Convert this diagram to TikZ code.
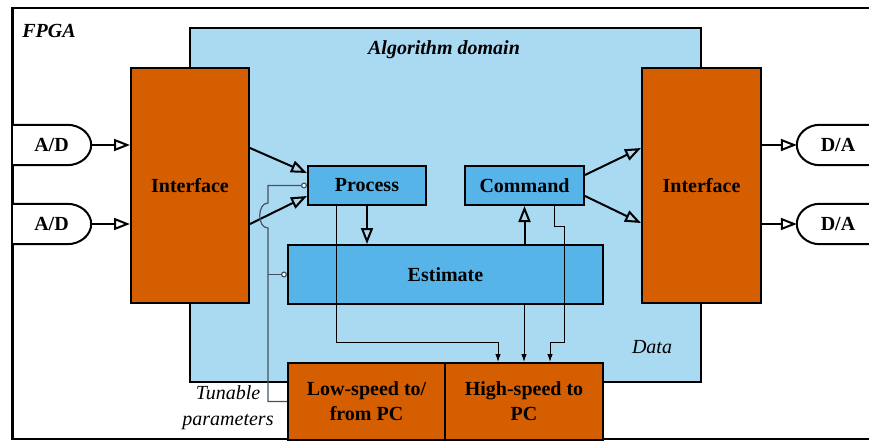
\documentclass[tikz,border=0pt]{standalone}
\usepackage{fontspec}
\setmainfont{Liberation Serif}
\usetikzlibrary{arrows.meta,calc}
\definecolor{vermil}{HTML}{D55E00}
\definecolor{skyblue}{HTML}{56B4E9}
\definecolor{paleblue}{HTML}{AAD9F2}
\definecolor{tunegray}{HTML}{46535F}
\tikzset{
  blockbase/.style={draw, line width=2pt, inner sep=0pt, anchor=north west,
    align=center, font=\bfseries\fontsize{20}{25}\selectfont},
  ifbox/.style={blockbase, fill=vermil},
  procbox/.style={blockbase, fill=skyblue},
  convlabel/.style={inner sep=0pt, font=\bfseries\fontsize{20}{24}\selectfont},
  itlabel/.style={inner sep=0pt, align=center, font=\itshape\fontsize{20}{26}\selectfont},
  bitlabel/.style={inner sep=0pt, font=\bfseries\itshape\fontsize{20}{24}\selectfont},
  convshape/.style={draw, line width=2pt, fill=white},
  bigarrow/.style={line width=2pt, -{Triangle[open, length=16pt, width=12pt]}},
  datalink/.style={line width=1pt, -{Latex[length=8pt, width=5.5pt]}},
  tune/.style={draw=tunegray, line width=1.2pt, -{Circle[length=6pt, fill=white]}},
}
\begin{document}
\begin{tikzpicture}[x=1pt, y=-1pt]
  \path[use as bounding box, clip] (0,0) rectangle (869,441);

  % FPGA frame and algorithm domain
  \node[draw, line width=2pt, minimum width=900pt, minimum height=431pt,
        inner sep=0pt, anchor=north west] (fpga) at (12,7) {};
  \node[bitlabel] (fpgalbl) at (49,31) {FPGA};
  \node[draw, line width=1.6pt, fill=paleblue, minimum width=511pt,
        minimum height=354pt, inner sep=0pt, anchor=north west] (algo) at (189,27) {};
  \node[bitlabel] (algolbl) at (444,50) {Algorithm domain};
  \node[itlabel] (datalbl) at (652,347) {Data};

  % interfaces
  \node[ifbox, minimum width=118pt, minimum height=235pt] (ifl) at (130,67) {Interface};
  \node[ifbox, minimum width=119pt, minimum height=235pt] (ifr) at (641,67) {Interface};

  % processing blocks
  \node[procbox, minimum width=118pt, minimum height=39pt] (proc) at (307,165) {Process};
  \node[procbox, minimum width=119pt, minimum height=39pt] (cmd) at (464,165) {Command};
  \node[procbox, minimum width=315pt, minimum height=59pt] (est) at (287,244) {Estimate};

  % PC links
  \node[ifbox, minimum width=157pt, minimum height=77pt] (low) at (287,362) {Low-speed to/\\from PC};
  \node[ifbox, minimum width=158pt, minimum height=77pt] (high) at (444,362) {High-speed to\\PC};
  \node[itlabel] (tunelbl) at (228,408) {Tunable\\parameters};

  % converters
  \foreach \nm/\yy/\txt in {ad1/145/{A/D}, ad2/224/{A/D}} {
    \node[convlabel, minimum width=79pt, minimum height=40pt] (\nm) at (51.5,\yy) {};
    \draw[convshape] (\nm.north west) -- ($(\nm.north east)+(-24,0)$)
      .. controls +(13.2,0) and +(0,-11) .. (\nm.east)
      .. controls +(0,11) and +(13.2,0) .. ($(\nm.south east)+(-24,0)$)
      -- (\nm.south west);
    \node[convlabel] at (\nm) {\txt};
  }
  \foreach \nm/\yy/\txt in {da1/145/{D/A}, da2/224/{D/A}} {
    \node[convlabel, minimum width=82pt, minimum height=40pt] (\nm) at (838,\yy) {};
    \draw[convshape] ($(\nm.north east)+(30,0)$) -- ($(\nm.north west)+(23,0)$)
      .. controls +(-12.7,0) and +(0,-11) .. (\nm.west)
      .. controls +(0,11) and +(-12.7,0) .. ($(\nm.south west)+(23,0)$)
      -- ($(\nm.south east)+(30,0)$);
    \node[convlabel] at (\nm) {\txt};
  }
  \draw[line width=2pt] (fpga.north west) -- (fpga.south west);

  % converter links
  \draw[bigarrow] (ad1.east) -- (ad1.east -| ifl.west);
  \draw[bigarrow] (ad2.east) -- (ad2.east -| ifl.west);
  \draw[bigarrow] (da1.west -| ifr.east) -- (da1.west);
  \draw[bigarrow] (da2.west -| ifr.east) -- (da2.west);

  % interface links
  \draw[bigarrow] ($(ifl.east)+(0,-37.5)$) -- ($(proc.west)+(0,-12.5)$);
  \draw[bigarrow] ($(ifl.east)+(0,38.5)$) -- ($(proc.west)+(0,10.5)$);
  \draw[bigarrow] ($(cmd.east)+(0,-10.5)$) -- ($(ifr.west)+(0,-37.5)$);
  \draw[bigarrow] ($(cmd.east)+(0,10.5)$) -- ($(ifr.west)+(0,37.5)$);

  % estimation loop
  \draw[bigarrow] (proc.south) -- (proc.south |- est.north);
  \draw[bigarrow] (cmd.south |- est.north) -- (cmd.south);

  % data streams to the PC
  \draw[datalink] ($(proc.south west)+(29,0)$) |- ($(high.north)+(-26,-20)$)
    -- ($(high.north)+(-26,0)$);
  \draw[datalink] (high.north |- est.south) -- (high.north);
  \draw[datalink] ($(cmd.south)+(30,0)$) -- ++(0,20) -- ++(10,0)
    |- ($(high.north)+(26,-20)$) -- ($(high.north)+(26,0)$);

  % tunable parameters
  \draw[tune] (low.west) -- ++(-19,0) coordinate (tv)
    -- ($(tv |- proc.west)+(0,42.5)$)
    .. controls +(-11,0) and +(-11,0) .. ($(tv |- proc.west)+(0,17.5)$)
    -- (tv |- proc.west) -- (proc.west);
  \draw[tune] (tv |- est.west) -- (est.west);
\end{tikzpicture}
\end{document}
